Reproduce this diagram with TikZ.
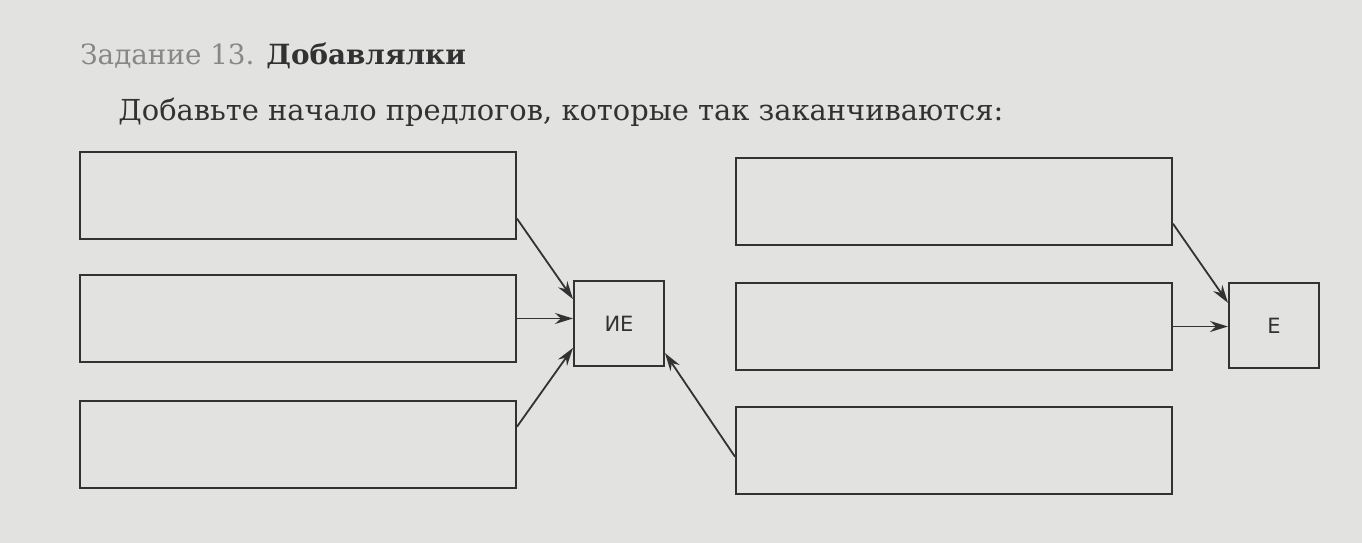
\documentclass[tikz,border=0pt]{standalone}
\usepackage{fontspec}
\setmainfont{DejaVu Serif}
\newfontfamily\boxfont{DejaVu Sans}
\usetikzlibrary{calc,arrows.meta}

\tikzset{every picture/.style={line width=0.75pt}}
\definecolor{paper}{RGB}{226,226,224}
\definecolor{ink}{RGB}{50,50,50}
\definecolor{faded}{RGB}{135,135,135}

\begin{document}
\begin{tikzpicture}[x=1pt,y=1pt,yscale=-1,xscale=1,
  answerbox/.style={draw=ink,line width=2pt,minimum width=436pt,minimum height=87pt,anchor=north west,inner sep=0pt},
  endbox/.style={draw=ink,line width=2pt,minimum width=90pt,minimum height=85pt,anchor=north west,inner sep=0pt,text=ink,font=\boxfont\fontsize{21}{21}\selectfont},
  link/.style={draw=ink,line width=1.8pt,-{Stealth[length=18pt,width=11pt]}},
  heading/.style={anchor=base west,inner sep=0pt,text=ink}]
%set diagram to the size of the photo
\fill [paper] (0,0) rectangle (1362,543);

% Text Node
\node (title) [heading,font=\fontsize{27.8}{28}\selectfont] at (80,65) {\textcolor{faded}{Задание 13.} \textbf{Добавлялки}};
% Text Node
\node (task) [heading,font=\fontsize{28.9}{29}\selectfont] at (118,120) {Добавьте начало предлогов, которые так заканчиваются:};

%left boxes
\node (l1) [answerbox] at (79,151) {};
\node (l2) [answerbox] at (79,274) {};
\node (l3) [answerbox] at (79,400) {};
%right boxes
\node (r1) [answerbox] at (735,157) {};
\node (r2) [answerbox] at (735,282) {};
\node (r3) [answerbox] at (735,406) {};

%ending boxes
\node (ie) [endbox] at (573,280) {ИЕ};
\node (e) [endbox] at (1228,282) {Е};

%arrows
\draw [link] ($(l1.north east)!0.76!(l1.south east)$) -- ($(ie.north west)!0.22!(ie.south west)$);
\draw [link] (l2.east) -- (l2.east -| ie.west);
\draw [link] ($(l3.north east)!0.3!(l3.south east)$) -- ($(ie.north west)!0.78!(ie.south west)$);
\draw [link] ($(r3.north west)!0.57!(r3.south west)$) -- ($(ie.north east)!0.84!(ie.south east)$);
\draw [link] ($(r1.north east)!0.75!(r1.south east)$) -- ($(e.north west)!0.24!(e.south west)$);
\draw [link] (r2.east) -- (r2.east -| e.west);

\end{tikzpicture}
\end{document}
